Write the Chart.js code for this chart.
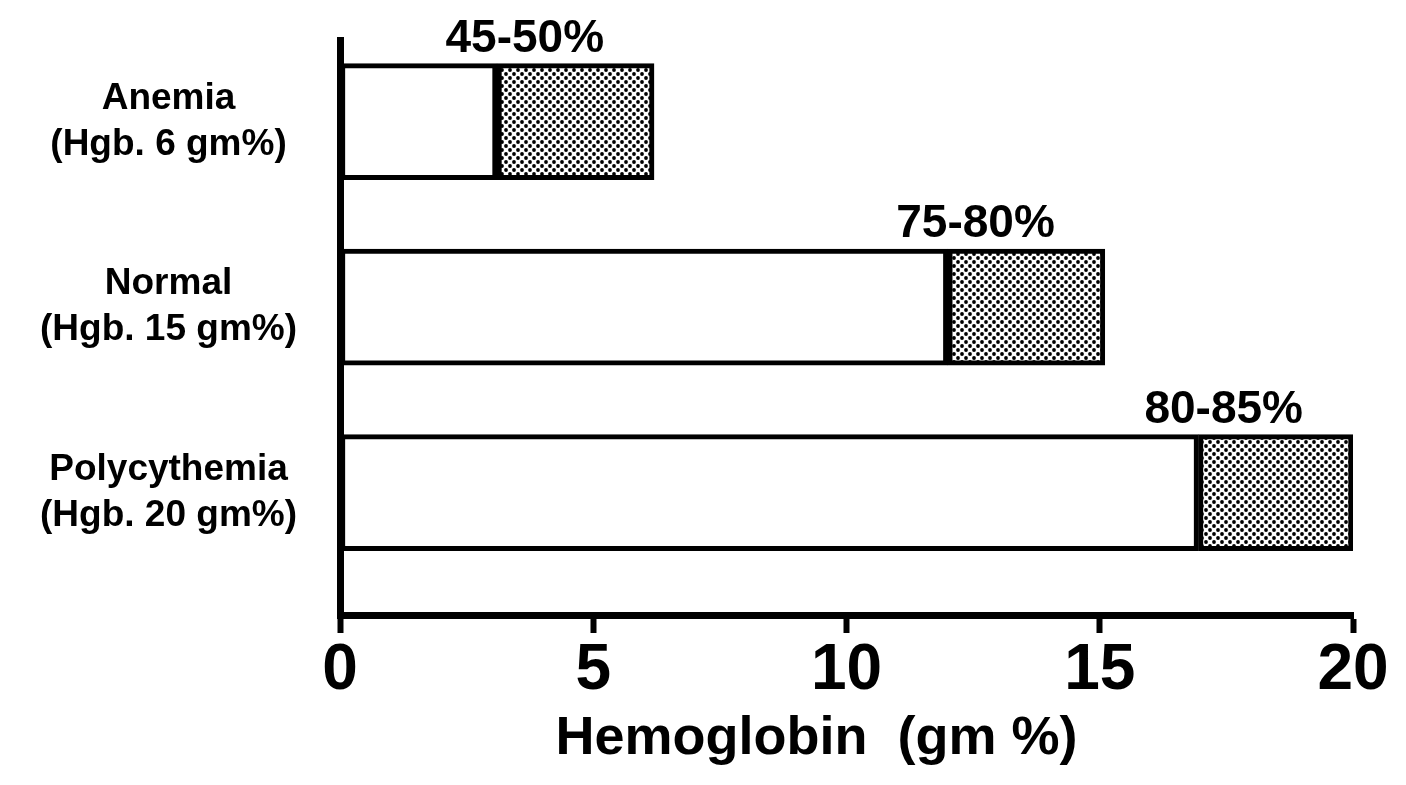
<!DOCTYPE html>
<html>
<head>
<meta charset="utf-8">
<script src="https://cdn.jsdelivr.net/npm/chart.js@4/dist/chart.umd.min.js"></script>
<style>
  html, body { margin: 0; padding: 0; background: #fff; }
  #wrap { width: 1406px; height: 785px; }
</style>
</head>
<body>
<div id="wrap"><canvas id="myChart" width="1406" height="785"></canvas></div>
<script>
// data
const categories = ['Anemia', 'Normal', 'Polycythemia'];
const hgbLabels = ['(Hgb. 6 gm%)', '(Hgb. 15 gm%)', '(Hgb. 20 gm%)'];
const rowPos = [1, 2, 3];
const whiteValues = [3.1, 12.0, 16.95];   // open part of each bar
const dottedValues = [3.1, 3.1, 3.05];    // dotted part stacked on top
const satLabels = ['45-50%', '75-80%', '80-85%'];
const xTicks = [0, 5, 10, 15, 20];

const FONT = '"Liberation Sans", Arial, sans-serif';

// dotted fill
function dotPattern() {
  const c = document.createElement('canvas');
  c.width = 8; c.height = 8;
  const g = c.getContext('2d');
  g.fillStyle = '#fff';
  g.fillRect(0, 0, 8, 8);
  g.fillStyle = '#000';
  [[2, 2], [6, 6]].forEach(p => {
    g.beginPath();
    g.arc(p[0], p[1], 1.9, 0, Math.PI * 2);
    g.fill();
  });
  return document.getElementById('myChart').getContext('2d').createPattern(c, 'repeat');
}

// percent labels above each bar
const satPlugin = {
  id: 'satLabels',
  afterDatasetsDraw(chart) {
    const ctx = chart.ctx;
    const meta = chart.getDatasetMeta(1);
    ctx.save();
    ctx.font = 'bold 46px ' + FONT;
    ctx.fillStyle = '#000';
    ctx.textAlign = 'right';
    ctx.textBaseline = 'alphabetic';
    meta.data.forEach((bar, i) => {
      const h = bar.height;
      ctx.fillText(satLabels[i], bar.x - 50, bar.y - h / 2 - 12);
    });
    ctx.restore();
  }
};

const ctx = document.getElementById('myChart').getContext('2d');
const myChart = new Chart(ctx, {
  type: 'bar',
  data: {
    datasets: [{
      label: 'open',
      data: whiteValues.map((v, i) => ({ x: v, y: rowPos[i] })),
      backgroundColor: '#fff',
      borderColor: '#000',
      borderWidth: 5,
      borderSkipped: false,
      barThickness: 116
    }, {
      label: 'dotted',
      data: dottedValues.map((v, i) => ({ x: v, y: rowPos[i] })),
      backgroundColor: dotPattern(),
      borderColor: '#000',
      borderWidth: 5,
      borderSkipped: false,
      barThickness: 116
    }]
  },
  plugins: [satPlugin],
  options: {
    indexAxis: 'y',
    responsive: false,
    animation: false,
    layout: { padding: { top: 40, right: 53, left: 0, bottom: 0 } },
    plugins: {
      legend: { display: false },
      tooltip: { enabled: false }
    },
    scales: {
      x: {
        type: 'linear',
        stacked: true,
        min: 0,
        max: 20,
        afterBuildTicks: s => { s.ticks = xTicks.map(v => ({ value: v })); },
        afterFit: s => { s.height = 170; },
        border: { display: true, width: 7, color: '#000' },
        grid: {
          display: true, drawOnChartArea: false, drawTicks: true,
          tickLength: 18, tickWidth: 6, tickColor: '#000'
        },
        ticks: {
          color: '#000',
          padding: 0,
          font: { family: FONT, size: 64, weight: 'bold' }
        },
        title: {
          display: true,
          text: 'Hemoglobin  (gm %)    ',
          color: '#000',
          font: { family: FONT, size: 54, weight: 'bold' },
          padding: { top: 0, bottom: 13 }
        }
      },
      y: {
        type: 'linear',
        stacked: true,
        reverse: true,
        offset: false,
        bounds: 'data',
        min: 0.56,
        max: 3.66,
        afterBuildTicks: s => { s.ticks = rowPos.map(v => ({ value: v })); },
        afterFit: s => { s.width = 340; s.paddingTop = 0; s.paddingBottom = 0; },
        border: { display: true, width: 7, color: '#000' },
        grid: { display: false, offset: false },
        ticks: {
          color: '#000',
          padding: 35,
          crossAlign: 'center',
          font: { family: FONT, size: 37, weight: 'bold', lineHeight: 1.25 },
          callback: (v) => {
            const i = rowPos.indexOf(v);
            return i < 0 ? '' : [categories[i], hgbLabels[i]];
          }
        }
      }
    }
  }
});
</script>
</body>
</html>
